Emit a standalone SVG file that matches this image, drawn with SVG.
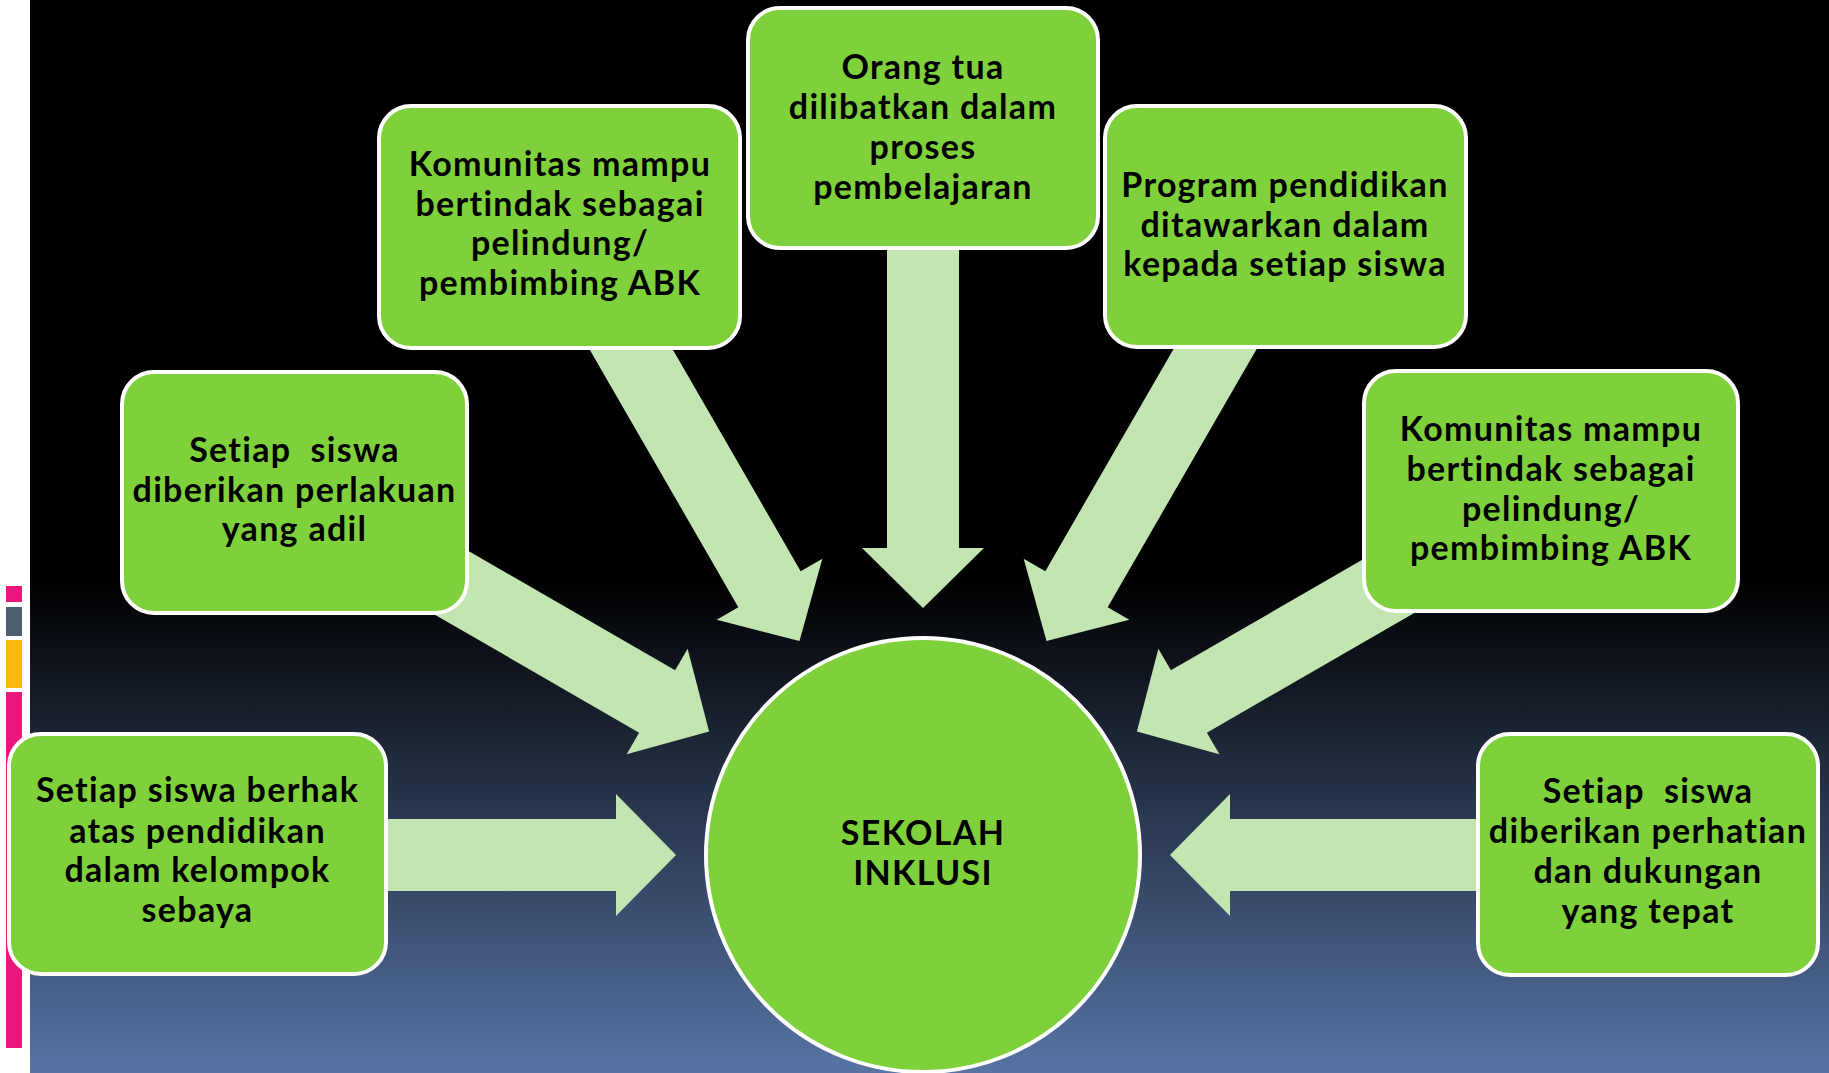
<svg xmlns="http://www.w3.org/2000/svg" width="1829" height="1073" viewBox="0 0 1829 1073">
<defs>
<linearGradient id="bg" x1="0" y1="0" x2="0" y2="1073" gradientUnits="userSpaceOnUse">
<stop offset="0" stop-color="#000000"/>
<stop offset="0.54" stop-color="#000000"/>
<stop offset="1" stop-color="#5774a5"/>
</linearGradient>
<polygon id="arr" points="-36,-620 36,-620 36,-307 61,-307 0,-247 -61,-307 -36,-307"/>
</defs>
<style>
.node{fill:#7fd13b;stroke:#ffffff;stroke-width:4}
.t{font-family:Lato,"Open Sans","Liberation Sans",sans-serif;font-weight:bold;font-size:34px;letter-spacing:1.3px;font-variant-ligatures:none;fill:#000;text-anchor:middle}
.arrow{fill:#c3e5b1}
</style>
<rect x="0" y="0" width="1829" height="1073" fill="#ffffff"/>
<rect x="30" y="0" width="1799" height="1073" fill="url(#bg)"/>
<rect x="6" y="586" width="16" height="16" fill="#e8187c"/>
<rect x="6" y="607" width="16" height="29" fill="#505c70"/>
<rect x="6" y="640" width="16" height="48" fill="#fdb813"/>
<rect x="6" y="692" width="16" height="356" fill="#e8187c"/>
<g id="connectors" class="arrow" transform="translate(923,855)">
<use href="#arr"/>
<use href="#arr" transform="rotate(-30)"/>
<use href="#arr" transform="rotate(-60)"/>
<use href="#arr" transform="rotate(-90)"/>
<use href="#arr" transform="rotate(30)"/>
<use href="#arr" transform="rotate(60)"/>
<use href="#arr" transform="rotate(90)"/>
</g>
<g id="n-center">
<circle cx="923" cy="855" r="217" class="node"/>
<text class="t" x="923" y="845">SEKOLAH</text>
<text class="t" x="923" y="885">INKLUSI</text>
</g>
<g id="n-orangtua">
<rect x="748" y="8" width="350" height="240" rx="32" class="node"/>
<text class="t" x="923" y="79">Orang tua</text>
<text class="t" x="923" y="119">dilibatkan dalam</text>
<text class="t" x="923" y="159">proses</text>
<text class="t" x="923" y="199">pembelajaran</text>
</g>
<g id="n-komunitas-kiri">
<rect x="379" y="106" width="361" height="242" rx="32" class="node"/>
<text class="t" x="560" y="176">Komunitas mampu</text>
<text class="t" x="560" y="216">bertindak sebagai</text>
<text class="t" x="560" y="255">pelindung/</text>
<text class="t" x="560" y="295">pembimbing ABK</text>
</g>
<g id="n-program">
<rect x="1105" y="106" width="361" height="241" rx="32" class="node"/>
<text class="t" x="1285" y="197">Program pendidikan</text>
<text class="t" x="1285" y="237">ditawarkan dalam</text>
<text class="t" x="1285" y="276">kepada setiap siswa</text>
</g>
<g id="n-adil">
<rect x="122" y="372" width="345" height="241" rx="32" class="node"/>
<text class="t" x="294.5" y="462" xml:space="preserve">Setiap  siswa</text>
<text class="t" x="294.5" y="502">diberikan perlakuan</text>
<text class="t" x="294.5" y="541">yang adil</text>
</g>
<g id="n-komunitas-kanan">
<rect x="1364" y="371" width="374" height="240" rx="32" class="node"/>
<text class="t" x="1551" y="441">Komunitas mampu</text>
<text class="t" x="1551" y="481">bertindak sebagai</text>
<text class="t" x="1551" y="521">pelindung/</text>
<text class="t" x="1551" y="560">pembimbing ABK</text>
</g>
<g id="n-berhak">
<rect x="9" y="734" width="377" height="240" rx="32" class="node"/>
<text class="t" x="197.5" y="802">Setiap siswa berhak</text>
<text class="t" x="197.5" y="843">atas pendidikan</text>
<text class="t" x="197.5" y="882">dalam kelompok</text>
<text class="t" x="197.5" y="922">sebaya</text>
</g>
<g id="n-perhatian">
<rect x="1478" y="734" width="340" height="241" rx="32" class="node"/>
<text class="t" x="1648" y="803" xml:space="preserve">Setiap  siswa</text>
<text class="t" x="1648" y="843">diberikan perhatian</text>
<text class="t" x="1648" y="883">dan dukungan</text>
<text class="t" x="1648" y="923">yang tepat</text>
</g>
</svg>
